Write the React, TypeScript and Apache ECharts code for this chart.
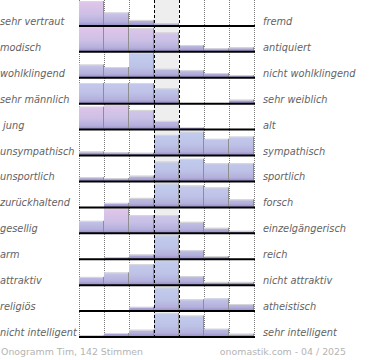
import React, { useEffect, useRef } from 'react';
import * as echarts from 'echarts';

const leftLabels = ['sehr vertraut', 'modisch', 'wohlklingend', 'sehr männlich', ' jung', 'unsympathisch', 'unsportlich', 'zurückhaltend', 'gesellig', 'arm', 'attraktiv', 'religiös', 'nicht intelligent'];
const rightLabels = ['fremd', 'antiquiert', 'nicht wohlklingend', 'sehr weiblich', 'alt', 'sympathisch', 'sportlich', 'forsch', 'einzelgängerisch', 'reich', 'nicht attraktiv', 'atheistisch', 'sehr intelligent'];

// bar heights per row (100 = full row height), 7 scale steps
const values = [
  [100, 54, 24, 10, 3, 0, 0],
  [100, 100, 96, 78, 27, 14, 18],
  [53, 43, 100, 36, 30, 19, 10],
  [83, 83, 83, 61, 1, 0, 16],
  [92, 98, 79, 35, 8, 0, 0],
  [16, 13, 11, 83, 96, 67, 76],
  [17, 13, 23, 80, 91, 73, 73],
  [0, 18, 38, 96, 88, 80, 32],
  [50, 100, 73, 73, 46, 22, 10],
  [0, 7, 19, 96, 36, 13, 0],
  [33, 51, 84, 100, 36, 13, 13],
  [0, 0, 17, 95, 47, 51, 28],
  [6, 16, 29, 96, 86, 33, 13],
];

// share of female votes per bar (0 = blue, 1 = pink)
const femaleShare = [
  [1, 0.7, 0.5, 0.5, 0.3, 0, 0],
  [1, 1, 0.9, 0.8, 0.4, 0.3, 0.4],
  [0.3, 0.3, 0, 0.1, 0.2, 0.3, 0.4],
  [0.15, 0.15, 0.1, 0, 0, 0, 0.5],
  [1, 0.9, 0.7, 0.5, 0.3, 0, 0],
  [0.4, 0.4, 0.4, 0, 0, 0.1, 0.1],
  [0.4, 0.4, 0.3, 0, 0, 0.1, 0.1],
  [0, 0.3, 0.2, 0, 0.1, 0.1, 0.3],
  [0.3, 1, 0.7, 0.6, 0.3, 0.3, 0.3],
  [0, 0.4, 0.3, 0, 0.1, 0.3, 0],
  [0.3, 0.3, 0.1, 0, 0.1, 0.3, 0.3],
  [0, 0, 0.3, 0, 0.1, 0.1, 0.3],
  [0.3, 0.3, 0.3, 0, 0, 0.1, 0.3],
];

const footerLeft = 'Onogramm Tim, 142 Stimmen';
const footerRight = 'onomastik.com - 04 / 2025';

const ROWS = leftLabels.length;
const COLS = 7;
const FONT = 'DejaVu Sans';

function mix(a: number[], b: number[], t: number): number[] {
  return a.map((v, i) => v + (b[i] - v) * t);
}
function rgb(c: number[]): string {
  return `rgb(${Math.round(c[0])},${Math.round(c[1])},${Math.round(c[2])})`;
}
const BLUE = [194, 205, 238];
const PINK = [226, 198, 234];

export default function App() {
  const ref = useRef<HTMLDivElement>(null);
  useEffect(() => {
    if (!ref.current) return;
    const chart = echarts.init(ref.current, undefined, { renderer: 'svg' });

    const barData: number[][] = [];
    values.forEach((row, r) => row.forEach((v, c) => barData.push([c, r, v, femaleShare[r][c]])));
    const rowData = leftLabels.map((_, r) => [0, r]);

    const labelStyle = {
      fontFamily: FONT,
      fontSize: 9.8,
      fontStyle: 'italic',
      fill: '#636363',
      align: 'left',
      verticalAlign: 'middle',
    };

    const option: any = {
      animation: false,
      grid: { left: 79, top: -1, width: 175, height: 338, containLabel: false },
      xAxis: { type: 'value', min: 0, max: COLS, show: false },
      yAxis: { type: 'value', min: 0, max: ROWS, show: false },
      series: [
        {
          type: 'custom',
          z: 1,
          silent: true,
          clip: false,
          data: [[0, 0]],
          encode: { x: 0, y: 1 },
          renderItem: (params: any, api: any) => {
            const children: any[] = [];
            const gx0 = api.coord([3, ROWS])[0];
            const gx1 = api.coord([4, 1])[0];
            const lastBase = api.coord([0, 0])[1];
            children.push({
              type: 'rect',
              shape: { x: gx0, y: 0, width: gx1 - gx0, height: lastBase },
              style: { fill: '#eeeeee' },
            });
            [0, 1, 2, 5, 6, 7].forEach((c) => {
              const x = api.coord([c, 0])[0] + 0.5;
              children.push({
                type: 'line',
                shape: { x1: x, y1: 0, x2: x, y2: lastBase },
                style: { stroke: '#7a7a7a', lineWidth: 1, lineDash: [1, 1] },
              });
            });
            return { type: 'group', children };
          },
        },
        {
          type: 'custom',
          z: 2,
          silent: true,
          clip: false,
          data: barData,
          encode: { x: 0, y: 1 },
          renderItem: (params: any, api: any) => {
            const c = api.value(0);
            const r = api.value(1);
            const v = api.value(2);
            const t = api.value(3);
            const base = ROWS - 1 - r;
            const [x0, yb] = api.coord([c, base]);
            const [x1, yTop] = api.coord([c + 1, base + (v / 100) * (25 / 26)]);
            const yRowTop = api.coord([c, base + 25 / 26])[1];
            const children: any[] = [];
            const top = mix(BLUE, PINK, t);
            if (v > 0) {
              const grad = new echarts.graphic.LinearGradient(
                0, yRowTop, 0, yb,
                [
                  { offset: 0, color: rgb(top) },
                  { offset: 0.55, color: rgb(mix(top, [184, 184, 224], 0.5)) },
                  { offset: 0.84, color: rgb([180, 176, 220]) },
                  { offset: 0.93, color: rgb([162, 154, 208]) },
                  { offset: 1, color: rgb([148, 140, 198]) },
                ],
                true
              );
              children.push({
                type: 'rect',
                shape: { x: x0, y: yTop, width: x1 - x0, height: yb - yTop },
                style: { fill: grad },
              });
              if (yb - yTop > 2) {
                children.push({
                  type: 'line',
                  shape: { x1: x0, y1: yTop + 0.5, x2: x1, y2: yTop + 0.5 },
                  style: { stroke: '#d8d8d8', lineWidth: 1 },
                });
              }
              children.push({
                type: 'line',
                shape: { x1: x1 - 0.5, y1: yTop, x2: x1 - 0.5, y2: yb },
                style: { stroke: '#8e8e8e', lineWidth: 1 },
              });
            }
            if (c === 0) {
              children.push({
                type: 'text',
                x: 0,
                y: yb - 4.5,
                style: { ...labelStyle, text: leftLabels[r] },
              });
            }
            if (c === COLS - 1) {
              children.push({
                type: 'text',
                x: 263,
                y: yb - 4.5,
                style: { ...labelStyle, text: rightLabels[r] },
              });
            }
            return { type: 'group', children };
          },
        },
        {
          type: 'custom',
          z: 3,
          silent: true,
          clip: false,
          data: rowData,
          encode: { x: 0, y: 1 },
          renderItem: (params: any, api: any) => {
            const r = api.value(1);
            const base = ROWS - 1 - r;
            const [x0, yb] = api.coord([0, base]);
            const x1 = api.coord([COLS, base])[0];
            const children: any[] = [
              {
                type: 'line',
                shape: { x1: x0, y1: yb, x2: x1 + 1, y2: yb },
                style: { stroke: '#000000', lineWidth: 2 },
              },
            ];
            if (r === 0) {
              const lastBase = api.coord([0, 0])[1];
              [3, 4].forEach((c) => {
                const x = api.coord([c, 0])[0] + 0.5;
                children.push({
                  type: 'line',
                  shape: { x1: x, y1: 0, x2: x, y2: lastBase },
                  style: { stroke: '#000000', lineWidth: 1, lineDash: [3, 2] },
                });
              });
            }
            return { type: 'group', children };
          },
        },
      ],
      graphic: [
        {
          type: 'text',
          left: 1,
          top: 347,
          style: { text: footerLeft, fontFamily: FONT, fontSize: 9.4, fill: '#b4b4b4' },
        },
        {
          type: 'text',
          right: 24,
          top: 347,
          style: { text: footerRight, fontFamily: FONT, fontSize: 9.4, fill: '#b4b4b4' },
        },
      ],
    };
    chart.setOption(option);
    return () => chart.dispose();
  }, []);
  return <div ref={ref} style={{ position: 'absolute', left: 0, top: 0, width: 370, height: 360 }} />;
}
